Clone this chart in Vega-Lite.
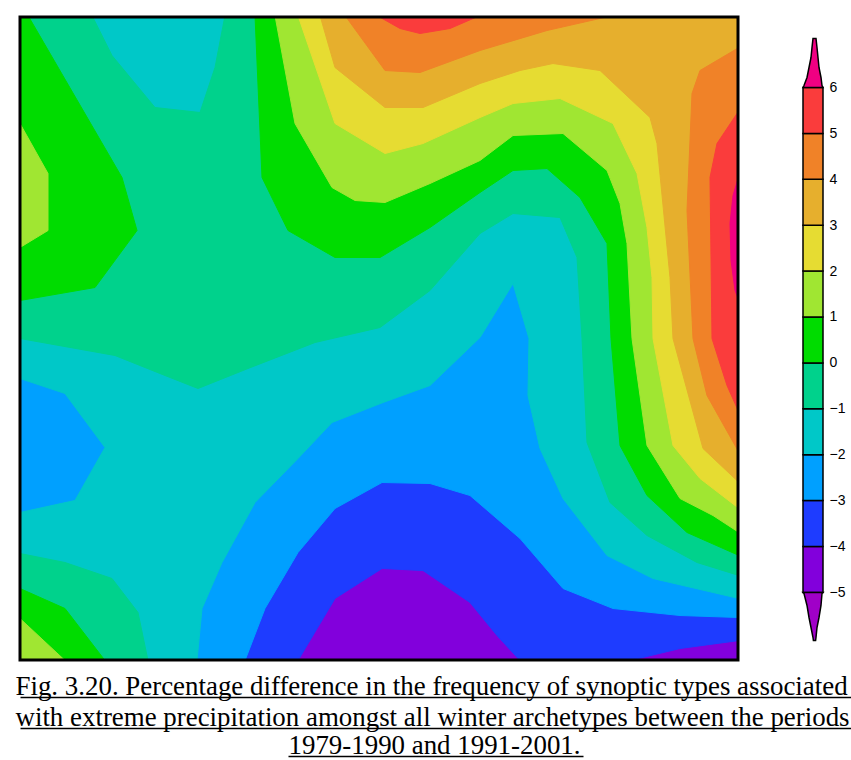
{
  "$schema": "https://vega.github.io/schema/vega-lite/v6.json",
  "padding": {"left": 15, "top": 15, "right": 0, "bottom": 0},
  "background": "white",
  "config": {"view": {"stroke": null}},
  "datasets": {
    "field": [
      {"poly":"p00","lev":-5,"i":0,"x":0,"y":0},{"poly":"p00","lev":-5,"i":1,"x":71.9,"y":0},{"poly":"p00","lev":-5,"i":2,"x":71.9,"y":64.5},{"poly":"p00","lev":-5,"i":3,"x":0,"y":64.5},
      {"poly":"p01","lev":-4,"i":0,"x":0,"y":0},{"poly":"p01","lev":-4,"i":1,"x":71.9,"y":0},{"poly":"p01","lev":-4,"i":2,"x":71.9,"y":62.5},{"poly":"p01","lev":-4,"i":3,"x":66,"y":63.3},{"poly":"p01","lev":-4,"i":4,"x":61,"y":64.5},{"poly":"p01","lev":-4,"i":5,"x":50,"y":64.5},{"poly":"p01","lev":-4,"i":6,"x":47.7,"y":62},{"poly":"p01","lev":-4,"i":7,"x":45,"y":58.7},{"poly":"p01","lev":-4,"i":8,"x":40.3,"y":55.5},{"poly":"p01","lev":-4,"i":9,"x":36.2,"y":55.3},{"poly":"p01","lev":-4,"i":10,"x":31.5,"y":58.3},{"poly":"p01","lev":-4,"i":11,"x":27.8,"y":64.5},{"poly":"p01","lev":-4,"i":12,"x":0,"y":64.5},
      {"poly":"p02","lev":-3,"i":0,"x":0,"y":0},{"poly":"p02","lev":-3,"i":1,"x":71.9,"y":0},{"poly":"p02","lev":-3,"i":2,"x":71.9,"y":60.2},{"poly":"p02","lev":-3,"i":3,"x":66,"y":60},{"poly":"p02","lev":-3,"i":4,"x":59.3,"y":59.3},{"poly":"p02","lev":-3,"i":5,"x":54.3,"y":57.3},{"poly":"p02","lev":-3,"i":6,"x":50,"y":52.3},{"poly":"p02","lev":-3,"i":7,"x":45,"y":48},{"poly":"p02","lev":-3,"i":8,"x":41,"y":46.8},{"poly":"p02","lev":-3,"i":9,"x":36.2,"y":46.7},{"poly":"p02","lev":-3,"i":10,"x":31.5,"y":49.3},{"poly":"p02","lev":-3,"i":11,"x":27.8,"y":53.7},{"poly":"p02","lev":-3,"i":12,"x":24.5,"y":59.3},{"poly":"p02","lev":-3,"i":13,"x":22.5,"y":64.5},{"poly":"p02","lev":-3,"i":14,"x":0,"y":64.5},
      {"poly":"p03","lev":-2,"i":0,"x":0,"y":0},{"poly":"p03","lev":-2,"i":1,"x":71.9,"y":0},{"poly":"p03","lev":-2,"i":2,"x":71.9,"y":58.3},{"poly":"p03","lev":-2,"i":3,"x":63.3,"y":56.3},{"poly":"p03","lev":-2,"i":4,"x":58.7,"y":54},{"poly":"p03","lev":-2,"i":5,"x":54.3,"y":48.3},{"poly":"p03","lev":-2,"i":6,"x":52,"y":43.3},{"poly":"p03","lev":-2,"i":7,"x":50.8,"y":38},{"poly":"p03","lev":-2,"i":8,"x":50.9,"y":32.3},{"poly":"p03","lev":-2,"i":9,"x":49.3,"y":26.8},{"poly":"p03","lev":-2,"i":10,"x":46,"y":32.2},{"poly":"p03","lev":-2,"i":11,"x":41,"y":37},{"poly":"p03","lev":-2,"i":12,"x":36.3,"y":38.7},{"poly":"p03","lev":-2,"i":13,"x":31.2,"y":40.7},{"poly":"p03","lev":-2,"i":14,"x":27.8,"y":44.3},{"poly":"p03","lev":-2,"i":15,"x":23.5,"y":48.7},{"poly":"p03","lev":-2,"i":16,"x":20.2,"y":54.7},{"poly":"p03","lev":-2,"i":17,"x":18.2,"y":59.3},{"poly":"p03","lev":-2,"i":18,"x":17.7,"y":64.5},{"poly":"p03","lev":-2,"i":19,"x":0,"y":64.5},{"poly":"p03","lev":-2,"i":20,"x":0,"y":49.7},{"poly":"p03","lev":-2,"i":21,"x":5.5,"y":48.5},{"poly":"p03","lev":-2,"i":22,"x":8.5,"y":43.2},{"poly":"p03","lev":-2,"i":23,"x":4.5,"y":37.8},{"poly":"p03","lev":-2,"i":24,"x":0,"y":36.3},
      {"poly":"p04","lev":-1,"i":0,"x":0,"y":0},{"poly":"p04","lev":-1,"i":1,"x":7.2,"y":0},{"poly":"p04","lev":-1,"i":2,"x":9.2,"y":4},{"poly":"p04","lev":-1,"i":3,"x":13.5,"y":9.2},{"poly":"p04","lev":-1,"i":4,"x":18,"y":9.7},{"poly":"p04","lev":-1,"i":5,"x":19.5,"y":5.2},{"poly":"p04","lev":-1,"i":6,"x":20.5,"y":0},{"poly":"p04","lev":-1,"i":7,"x":71.9,"y":0},{"poly":"p04","lev":-1,"i":8,"x":71.9,"y":56},{"poly":"p04","lev":-1,"i":9,"x":67.7,"y":54.7},{"poly":"p04","lev":-1,"i":10,"x":62.7,"y":52},{"poly":"p04","lev":-1,"i":11,"x":59,"y":48.7},{"poly":"p04","lev":-1,"i":12,"x":56.7,"y":42.7},{"poly":"p04","lev":-1,"i":13,"x":56.2,"y":32.3},{"poly":"p04","lev":-1,"i":14,"x":55.7,"y":24.2},{"poly":"p04","lev":-1,"i":15,"x":54,"y":20.2},{"poly":"p04","lev":-1,"i":16,"x":49.3,"y":19.8},{"poly":"p04","lev":-1,"i":17,"x":46,"y":21.8},{"poly":"p04","lev":-1,"i":18,"x":41,"y":27.5},{"poly":"p04","lev":-1,"i":19,"x":36,"y":31.2},{"poly":"p04","lev":-1,"i":20,"x":29.5,"y":32.7},{"poly":"p04","lev":-1,"i":21,"x":22.8,"y":35.3},{"poly":"p04","lev":-1,"i":22,"x":17.8,"y":37.3},{"poly":"p04","lev":-1,"i":23,"x":14.5,"y":36},{"poly":"p04","lev":-1,"i":24,"x":9.5,"y":34},{"poly":"p04","lev":-1,"i":25,"x":0,"y":32.3},
      {"poly":"p05","lev":-1,"i":0,"x":0,"y":53.8},{"poly":"p05","lev":-1,"i":1,"x":4.5,"y":54.7},{"poly":"p05","lev":-1,"i":2,"x":9.2,"y":56.3},{"poly":"p05","lev":-1,"i":3,"x":11.8,"y":59.7},{"poly":"p05","lev":-1,"i":4,"x":12.8,"y":64.5},{"poly":"p05","lev":-1,"i":5,"x":0,"y":64.5},
      {"poly":"p06","lev":0,"i":0,"x":0,"y":0},{"poly":"p06","lev":0,"i":1,"x":0.8,"y":0},{"poly":"p06","lev":0,"i":2,"x":10.2,"y":16.2},{"poly":"p06","lev":0,"i":3,"x":11.7,"y":21.5},{"poly":"p06","lev":0,"i":4,"x":7.5,"y":27.2},{"poly":"p06","lev":0,"i":5,"x":0,"y":28.5},
      {"poly":"p07","lev":0,"i":0,"x":23.5,"y":0},{"poly":"p07","lev":0,"i":1,"x":71.9,"y":0},{"poly":"p07","lev":0,"i":2,"x":71.9,"y":54},{"poly":"p07","lev":0,"i":3,"x":66.7,"y":51.7},{"poly":"p07","lev":0,"i":4,"x":62.7,"y":48},{"poly":"p07","lev":0,"i":5,"x":60,"y":43},{"poly":"p07","lev":0,"i":6,"x":59.1,"y":32.3},{"poly":"p07","lev":0,"i":7,"x":58.7,"y":22.8},{"poly":"p07","lev":0,"i":8,"x":56,"y":18.2},{"poly":"p07","lev":0,"i":9,"x":52.7,"y":15.3},{"poly":"p07","lev":0,"i":10,"x":49.3,"y":15.5},{"poly":"p07","lev":0,"i":11,"x":46,"y":17.7},{"poly":"p07","lev":0,"i":12,"x":41,"y":21.2},{"poly":"p07","lev":0,"i":13,"x":36,"y":24.2},{"poly":"p07","lev":0,"i":14,"x":31.5,"y":24.2},{"poly":"p07","lev":0,"i":15,"x":26.8,"y":21.5},{"poly":"p07","lev":0,"i":16,"x":24.2,"y":16.2},
      {"poly":"p08","lev":0,"i":0,"x":0,"y":57.3},{"poly":"p08","lev":0,"i":1,"x":4.5,"y":59.3},{"poly":"p08","lev":0,"i":2,"x":8.5,"y":64.5},{"poly":"p08","lev":0,"i":3,"x":0,"y":64.5},
      {"poly":"p09","lev":1,"i":0,"x":0,"y":10.8},{"poly":"p09","lev":1,"i":1,"x":2.8,"y":15.8},{"poly":"p09","lev":1,"i":2,"x":2.8,"y":21.5},{"poly":"p09","lev":1,"i":3,"x":0,"y":23.2},
      {"poly":"p10","lev":1,"i":0,"x":25.5,"y":0},{"poly":"p10","lev":1,"i":1,"x":71.9,"y":0},{"poly":"p10","lev":1,"i":2,"x":71.9,"y":51.7},{"poly":"p10","lev":1,"i":3,"x":69.3,"y":50},{"poly":"p10","lev":1,"i":4,"x":66,"y":48.3},{"poly":"p10","lev":1,"i":5,"x":62.7,"y":43},{"poly":"p10","lev":1,"i":6,"x":61.2,"y":32.3},{"poly":"p10","lev":1,"i":7,"x":60.7,"y":22.8},{"poly":"p10","lev":1,"i":8,"x":60,"y":18.8},{"poly":"p10","lev":1,"i":9,"x":58.7,"y":15.5},{"poly":"p10","lev":1,"i":10,"x":54.3,"y":11.8},{"poly":"p10","lev":1,"i":11,"x":49.3,"y":12},{"poly":"p10","lev":1,"i":12,"x":46,"y":14.5},{"poly":"p10","lev":1,"i":13,"x":41,"y":16.8},{"poly":"p10","lev":1,"i":14,"x":36.5,"y":18.7},{"poly":"p10","lev":1,"i":15,"x":33.5,"y":18.5},{"poly":"p10","lev":1,"i":16,"x":31.2,"y":17.2},{"poly":"p10","lev":1,"i":17,"x":27.5,"y":10.8},
      {"poly":"p11","lev":1,"i":0,"x":0,"y":60.3},{"poly":"p11","lev":1,"i":1,"x":4.5,"y":64.5},{"poly":"p11","lev":1,"i":2,"x":0,"y":64.5},
      {"poly":"p12","lev":2,"i":0,"x":27.8,"y":0},{"poly":"p12","lev":2,"i":1,"x":71.9,"y":0},{"poly":"p12","lev":2,"i":2,"x":71.9,"y":49.3},{"poly":"p12","lev":2,"i":3,"x":68,"y":46.3},{"poly":"p12","lev":2,"i":4,"x":65.3,"y":43},{"poly":"p12","lev":2,"i":5,"x":63.3,"y":32.3},{"poly":"p12","lev":2,"i":6,"x":63.2,"y":26.2},{"poly":"p12","lev":2,"i":7,"x":62.7,"y":21.2},{"poly":"p12","lev":2,"i":8,"x":61.7,"y":15.8},{"poly":"p12","lev":2,"i":9,"x":59.3,"y":10.8},{"poly":"p12","lev":2,"i":10,"x":54,"y":8.3},{"poly":"p12","lev":2,"i":11,"x":49.3,"y":8.8},{"poly":"p12","lev":2,"i":12,"x":46,"y":10.2},{"poly":"p12","lev":2,"i":13,"x":40.3,"y":12.8},{"poly":"p12","lev":2,"i":14,"x":36.5,"y":13.8},{"poly":"p12","lev":2,"i":15,"x":31.5,"y":10.8},
      {"poly":"p13","lev":3,"i":0,"x":30,"y":0},{"poly":"p13","lev":3,"i":1,"x":71.9,"y":0},{"poly":"p13","lev":3,"i":2,"x":71.9,"y":46.7},{"poly":"p13","lev":3,"i":3,"x":68.3,"y":43.3},{"poly":"p13","lev":3,"i":4,"x":65.3,"y":32.3},{"poly":"p13","lev":3,"i":5,"x":65,"y":26.2},{"poly":"p13","lev":3,"i":6,"x":63.7,"y":12.8},{"poly":"p13","lev":3,"i":7,"x":63,"y":10.2},{"poly":"p13","lev":3,"i":8,"x":58,"y":5.5},{"poly":"p13","lev":3,"i":9,"x":53.3,"y":4.8},{"poly":"p13","lev":3,"i":10,"x":50,"y":5.5},{"poly":"p13","lev":3,"i":11,"x":46,"y":6.8},{"poly":"p13","lev":3,"i":12,"x":40.3,"y":9.2},{"poly":"p13","lev":3,"i":13,"x":36.5,"y":9.2},{"poly":"p13","lev":3,"i":14,"x":31.5,"y":5.2},
      {"poly":"p14","lev":4,"i":0,"x":32.5,"y":0},{"poly":"p14","lev":4,"i":1,"x":59.3,"y":0},{"poly":"p14","lev":4,"i":2,"x":52.7,"y":1.5},{"poly":"p14","lev":4,"i":3,"x":46,"y":3.5},{"poly":"p14","lev":4,"i":4,"x":40,"y":5.7},{"poly":"p14","lev":4,"i":5,"x":36.5,"y":5.5},
      {"poly":"p15","lev":4,"i":0,"x":71.9,"y":3.2},{"poly":"p15","lev":4,"i":1,"x":71.9,"y":43.7},{"poly":"p15","lev":4,"i":2,"x":68.7,"y":38},{"poly":"p15","lev":4,"i":3,"x":67.3,"y":32.3},{"poly":"p15","lev":4,"i":4,"x":66.7,"y":19.5},{"poly":"p15","lev":4,"i":5,"x":67.2,"y":7.8},{"poly":"p15","lev":4,"i":6,"x":68,"y":5.5},
      {"poly":"p16","lev":5,"i":0,"x":35.7,"y":0},{"poly":"p16","lev":5,"i":1,"x":46,"y":0},{"poly":"p16","lev":5,"i":2,"x":43,"y":1.3},{"poly":"p16","lev":5,"i":3,"x":40,"y":1.8},{"poly":"p16","lev":5,"i":4,"x":38,"y":1.3},
      {"poly":"p17","lev":5,"i":0,"x":71.9,"y":9.5},{"poly":"p17","lev":5,"i":1,"x":71.9,"y":39.7},{"poly":"p17","lev":5,"i":2,"x":70.7,"y":37},{"poly":"p17","lev":5,"i":3,"x":69.2,"y":32.3},{"poly":"p17","lev":5,"i":4,"x":69,"y":16.2},{"poly":"p17","lev":5,"i":5,"x":69.7,"y":12.8},
      {"poly":"p18","lev":6,"i":0,"x":71.9,"y":16},{"poly":"p18","lev":6,"i":1,"x":71.3,"y":18},{"poly":"p18","lev":6,"i":2,"x":71,"y":20.8},{"poly":"p18","lev":6,"i":3,"x":71.1,"y":24.5},{"poly":"p18","lev":6,"i":4,"x":71.5,"y":27.5},{"poly":"p18","lev":6,"i":5,"x":71.9,"y":28.5}
    ],
    "bands": [
      {"v":-5,"v2":-4,"lev":-5},{"v":-4,"v2":-3,"lev":-4},{"v":-3,"v2":-2,"lev":-3},{"v":-2,"v2":-1,"lev":-2},{"v":-1,"v2":0,"lev":-1},{"v":0,"v2":1,"lev":0},
      {"v":1,"v2":2,"lev":1},{"v":2,"v2":3,"lev":2},{"v":3,"v2":4,"lev":3},{"v":4,"v2":5,"lev":4},{"v":5,"v2":6,"lev":5}
    ],
    "tris": [
      {"tri":"t1","lev":6,"i":0,"px":0,"v":6},{"tri":"t1","lev":6,"i":1,"px":0.05,"v":6.044},{"tri":"t1","lev":6,"i":2,"px":0.2,"v":6.218},{"tri":"t1","lev":6,"i":3,"px":0.3,"v":6.436},{"tri":"t1","lev":6,"i":4,"px":0.4,"v":6.654},{"tri":"t1","lev":6,"i":5,"px":0.45,"v":6.871},{"tri":"t1","lev":6,"i":6,"px":0.5,"v":7.068},{"tri":"t1","lev":6,"i":7,"px":0.65,"v":7.068},{"tri":"t1","lev":6,"i":8,"px":0.7,"v":6.871},{"tri":"t1","lev":6,"i":9,"px":0.75,"v":6.654},{"tri":"t1","lev":6,"i":10,"px":0.8,"v":6.436},{"tri":"t1","lev":6,"i":11,"px":0.9,"v":6.218},{"tri":"t1","lev":6,"i":12,"px":0.95,"v":6.044},{"tri":"t1","lev":6,"i":13,"px":1,"v":6},
      {"tri":"t2","lev":-6,"i":0,"px":0,"v":-5},{"tri":"t2","lev":-6,"i":1,"px":0.05,"v":-5.024},{"tri":"t2","lev":-6,"i":2,"px":0.2,"v":-5.285},{"tri":"t2","lev":-6,"i":3,"px":0.3,"v":-5.547},{"tri":"t2","lev":-6,"i":4,"px":0.4,"v":-5.765},{"tri":"t2","lev":-6,"i":5,"px":0.5,"v":-5.983},{"tri":"t2","lev":-6,"i":6,"px":0.52,"v":-6.048},{"tri":"t2","lev":-6,"i":7,"px":0.63,"v":-6.048},{"tri":"t2","lev":-6,"i":8,"px":0.65,"v":-5.983},{"tri":"t2","lev":-6,"i":9,"px":0.7,"v":-5.765},{"tri":"t2","lev":-6,"i":10,"px":0.8,"v":-5.547},{"tri":"t2","lev":-6,"i":11,"px":0.9,"v":-5.285},{"tri":"t2","lev":-6,"i":12,"px":0.95,"v":-5.024},{"tri":"t2","lev":-6,"i":13,"px":1,"v":-5}
    ]
  },
  "spacing": 10,
  "vconcat": [
    {
      "spacing": 65,
      "bounds": "flush",
      "hconcat": [
        {
          "width": 718,
          "height": 643,
          "layer": [
            {
              "data": {"name": "field"},
              "mark": {"type": "line", "interpolate": "linear-closed", "strokeWidth": 1, "clip": true},
              "encoding": {
                "x": {"field": "x", "type": "quantitative", "scale": {"domain": [0, 71.8], "nice": false, "zero": false}, "axis": null},
                "y": {"field": "y", "type": "quantitative", "scale": {"domain": [0.15, 64.45], "nice": false, "zero": false, "reverse": true}, "axis": null},
                "detail": {"field": "poly", "type": "nominal"},
                "order": {"field": "i", "type": "quantitative"},
                "fill": {"field": "lev", "type": "ordinal", "legend": null, "scale": {"domain": [-6,-5,-4,-3,-2,-1,0,1,2,3,4,5,6], "range": ["#a000c8","#8200dc","#1e3cff","#00a0ff","#00c8c8","#00d28c","#00dc00","#a0e632","#e6dc32","#e6af2d","#f08228","#fa3c3c","#f00082"]}},
                "stroke": {"field": "lev", "type": "ordinal", "legend": null, "scale": {"domain": [-6,-5,-4,-3,-2,-1,0,1,2,3,4,5,6], "range": ["#a000c8","#8200dc","#1e3cff","#00a0ff","#00c8c8","#00d28c","#00dc00","#a0e632","#e6dc32","#e6af2d","#f08228","#fa3c3c","#f00082"]}}
              }
            },
            {
              "data": {"values": [{}]},
              "mark": {"type": "rect", "filled": false, "stroke": "black", "strokeWidth": 3},
              "encoding": {
                "x": {"datum": 0},
                "x2": {"datum": 71.8},
                "y": {"datum": 0.15},
                "y2": {"datum": 64.45}
              }
            }
          ]
        },
        {
          "width": 20,
          "height": 643,
          "encoding": {
            "y": {"field": "v", "type": "quantitative", "scale": {"domain": [-6.473, 7.536], "nice": false, "zero": false},
              "axis": {"orient": "right", "values": [-5,-4,-3,-2,-1,0,1,2,3,4,5,6], "format": "d", "domain": false, "ticks": false, "grid": false, "labelPadding": 6, "labelFont": "Liberation Sans", "labelFontSize": 14, "labelColor": "black", "title": null}}
          },
          "layer": [
            {
              "data": {"name": "bands"},
              "mark": {"type": "rect", "stroke": "black", "strokeWidth": 1.5},
              "encoding": {
                "y2": {"field": "v2"},
                "x": {"datum": 0, "type": "quantitative", "scale": {"domain": [0, 1], "nice": false, "zero": false}, "axis": null},
                "x2": {"datum": 1},
                "fill": {"field": "lev", "type": "ordinal", "legend": null, "scale": {"domain": [-6,-5,-4,-3,-2,-1,0,1,2,3,4,5,6], "range": ["#a000c8","#8200dc","#1e3cff","#00a0ff","#00c8c8","#00d28c","#00dc00","#a0e632","#e6dc32","#e6af2d","#f08228","#fa3c3c","#f00082"]}}
              }
            },
            {
              "data": {"name": "tris"},
              "mark": {"type": "line", "interpolate": "linear-closed", "stroke": "black", "strokeWidth": 1.5},
              "encoding": {
                "x": {"field": "px", "type": "quantitative", "axis": null},
                "detail": {"field": "tri", "type": "nominal"},
                "order": {"field": "i", "type": "quantitative"},
                "fill": {"field": "lev", "type": "ordinal", "legend": null, "scale": {"domain": [-6,-5,-4,-3,-2,-1,0,1,2,3,4,5,6], "range": ["#a000c8","#8200dc","#1e3cff","#00a0ff","#00c8c8","#00d28c","#00dc00","#a0e632","#e6dc32","#e6af2d","#f08228","#fa3c3c","#f00082"]}}
              }
            }
          ]
        }
      ]
    },
    {
      "spacing": 26,
      "bounds": "flush",
      "center": true,
      "vconcat": [
        {
          "width": 831, "height": 5,
          "data": {"values": [{"t": 0}, {"t": 1}]},
          "mark": {"type": "point", "opacity": 0},
          "encoding": {"x": {"field": "t", "type": "quantitative", "axis": {"orient": "top", "title": "Fig. 3.20. Percentage difference in the frequency of synoptic types associated", "domain": true, "domainColor": "black", "domainWidth": 1.5, "ticks": false, "labels": false, "grid": false, "titleFont": "Liberation Serif", "titleFontSize": 26.9, "titleFontWeight": "normal", "titleColor": "black", "titleAnchor": "start", "titleAlign": "left", "titleBaseline": "alphabetic", "titlePadding": 3, "titleX": -5, "titleLimit": 1000}}}
        },
        {
          "width": 831, "height": 2,
          "data": {"values": [{"t": 0}, {"t": 1}]},
          "mark": {"type": "point", "opacity": 0},
          "encoding": {"x": {"field": "t", "type": "quantitative", "axis": {"orient": "top", "title": "with extreme precipitation amongst all winter archetypes between the periods", "domain": true, "domainColor": "black", "domainWidth": 1.5, "ticks": false, "labels": false, "grid": false, "titleFont": "Liberation Serif", "titleFontSize": 26.9, "titleFontWeight": "normal", "titleColor": "black", "titleAnchor": "start", "titleAlign": "left", "titleBaseline": "alphabetic", "titlePadding": 3, "titleX": -5, "titleLimit": 1000}}}
        },
        {
          "width": 295, "height": 1,
          "data": {"values": [{"t": 0}, {"t": 1}]},
          "mark": {"type": "point", "opacity": 0},
          "encoding": {"x": {"field": "t", "type": "quantitative", "axis": {"orient": "top", "title": "1979-1990 and 1991-2001.", "domain": true, "domainColor": "black", "domainWidth": 1.5, "ticks": false, "labels": false, "grid": false, "titleFont": "Liberation Serif", "titleFontSize": 26.9, "titleFontWeight": "normal", "titleColor": "black", "titleAnchor": "start", "titleAlign": "left", "titleBaseline": "alphabetic", "titlePadding": 3, "titleLimit": 1000}}}
        }
      ]
    }
  ]
}
